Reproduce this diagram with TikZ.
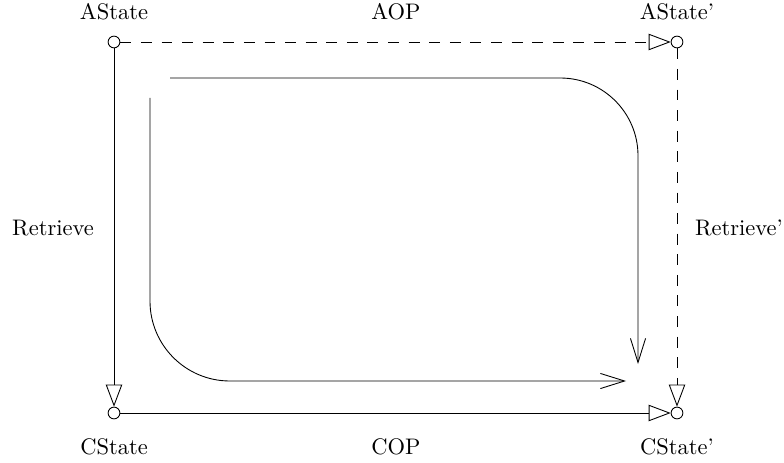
\documentclass[tikz,border=0pt]{standalone}
\usetikzlibrary{arrows.meta}
\begin{document}
\begin{tikzpicture}[x=0.4758pt,y=-0.4758pt,
  state/.style={circle,draw,inner sep=0pt,minimum size=5.6pt,fill=white},
  lbl/.style={font=\fontsize{10.7}{13}\selectfont},
  tri/.style={-{Triangle[open,length=10.5pt,width=7.8pt]}},
  barb/.style={-{Straight Barb[length=11.5pt,width=7.2pt]}},
  dsh/.style={dash pattern=on 5.2pt off 4.6pt},
  line width=0.42pt]
  \useasboundingbox (0,0) rectangle (784,463);

  % state points
  \node[state] (as)  at (114,42)  {};
  \node[state] (as2) at (677,42)  {};
  \node[state] (cs)  at (114,413) {};
  \node[state] (cs2) at (677,413) {};

  % labels
  \node[lbl] (las)  at (114,12)  {AState};
  \node[lbl] (laop) at (396,12)  {AOP};
  \node[lbl] (las2) at (677,12)  {AState'};
  \node[lbl] (lret) at (53,228)  {Retrieve};
  \node[lbl] (lret2) at (739,228) {Retrieve'};
  \node[lbl] (lcs)  at (114,447) {CState};
  \node[lbl] (lcop) at (396,447) {COP};
  \node[lbl] (lcs2) at (677,447) {CState'};

  % square of operations
  \draw[tri,dsh] (as) -- (as2);
  \draw[tri] (as) -- (cs);
  \draw[tri,dsh] (as2) -- (cs2);
  \draw[tri] (cs) -- (cs2);

  % the two composite routes
  \coordinate (t0) at (170,78);
  \coordinate (t1) at (638,78);
  \coordinate (t2) at (638,364);
  \coordinate (b0) at (150,98);
  \coordinate (b1) at (150,381);
  \coordinate (b2) at (626,381);
  \draw[barb,rounded corners=37pt] (t0) -- (t1) -- (t2);
  \draw[barb,rounded corners=38pt] (b0) -- (b1) -- (b2);
\end{tikzpicture}
\end{document}
